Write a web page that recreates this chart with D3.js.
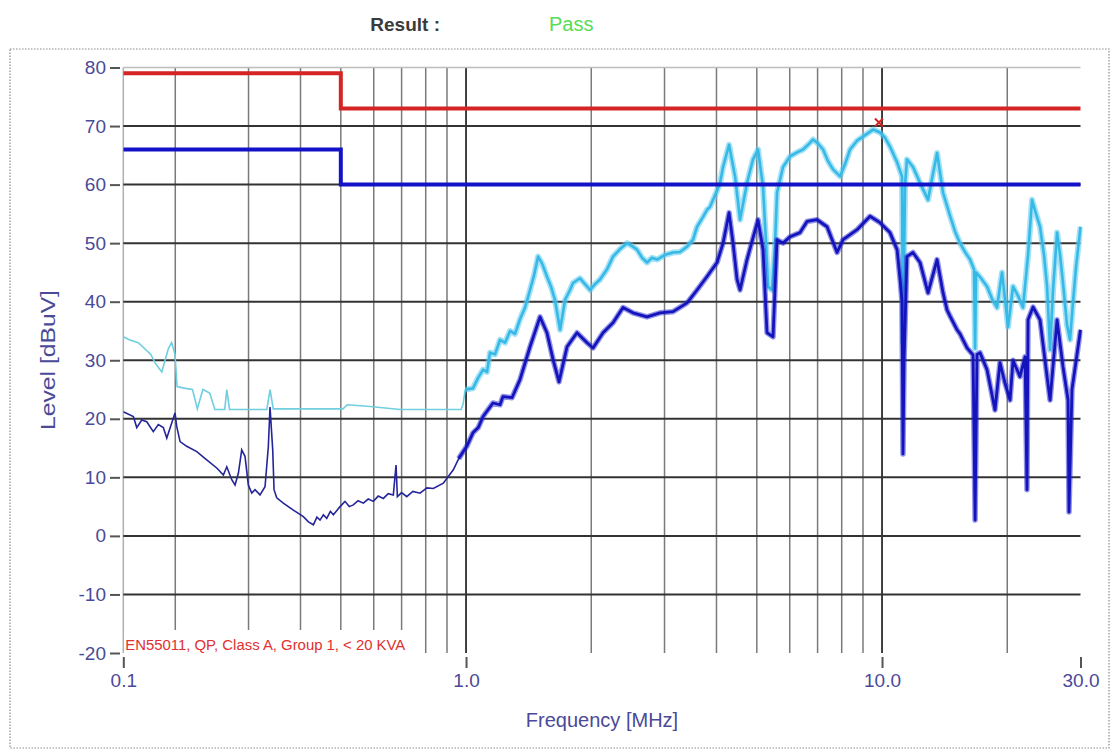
<!DOCTYPE html>
<html>
<head>
<meta charset="utf-8">
<script src="https://cdn.jsdelivr.net/npm/d3@7/dist/d3.min.js"></script>
<style>
  html, body { margin: 0; padding: 0; background: #fff; }
  svg { display: block; font-family: "Liberation Sans", Arial, sans-serif; }
</style>
</head>
<body>
<svg id="chart" width="1119" height="751"></svg>
<script>
// ---------- DATA ----------
const titleLabel = "Result :";
const resultText = "Pass";
const xTitle = "Frequency [MHz]";
const yTitle = "Level [dBuV]";
const limitNote = "EN55011, QP, Class A, Group 1, < 20 KVA";

const yTicks = [80, 70, 60, 50, 40, 30, 20, 10, 0, -10, -20];
const xTickValues = [0.15, 1, 10, 30];
const xTickLabels = ["0.1", "1.0", "10.0", "30.0"];
const xGridMinor = [0.2, 0.3, 0.4, 0.5, 0.6, 0.7, 0.8, 0.9, 2, 3, 4, 5, 6, 7, 8, 9, 20];
const xGridMajor = [1, 10];

// Limit lines (step after)
const limitFreq = [0.15, 0.5, 30];
const qpLimit = [79, 73, 73];
const avLimit = [66, 60, 60];

// Peak marker
const markerFreq = [9.83];
const markerLevel = [70.6];

// Light-blue (peak) trace
const peakFreq = [0.150,0.155,0.163,0.1747,0.179,0.1856,0.189,0.1925,0.196,0.1997,0.202,0.2115,0.220,0.226,0.233,0.242,0.249,0.263,0.266,0.270,0.300,0.332,0.338,0.344,0.40,0.506,0.518,0.588,0.694,0.85,0.973,0.984,0.995,
 1.039,1.069,1.099,1.123,1.142,1.174,1.207,1.241,1.276,1.311,1.348,1.386,1.425,1.457,1.490,1.524,1.565,1.602,1.636,1.683,1.730,1.778,1.808,1.879,1.932,1.987,2.042,2.099,2.181,2.256,2.345,2.438,2.508,2.577,2.650,2.723,2.800,2.878,3.009,3.145,3.269,3.399,3.513,3.592,3.713,3.796,3.860,4.013,4.080,4.148,4.288,4.433,4.557,4.737,4.897,5.034,5.175,5.262,5.321,5.440,5.531,5.593,5.781,6.009,6.247,6.458,6.640,6.826,7.019,7.216,7.418,7.626,7.927,8.150,8.378,8.709,9.003,9.515,9.890,10.17,10.45,10.87,11.17,11.23,11.36,11.48,11.87,12.34,12.90,13.27,13.56,14.02,14.58,14.98,15.40,15.83,16.28,16.64,16.74,16.83,17.30,17.88,18.38,18.90,19.43,20.09,20.65,21.23,21.82,22.44,22.94,23.46,23.98,24.51,24.93,25.35,25.77,26.35,26.79,27.23,27.84,28.31,28.79,29.27,30.0];
const peakLevel = [34,33.5,33,31,29.5,28,30,32,33,31,25.5,25.2,25,21.7,25,24.4,21.6,21.6,25,21.6,21.6,21.6,25,21.7,21.7,21.7,22.4,22.1,21.6,21.6,21.6,22.5,25,
 25.2,27,28.4,28,31.3,31,33.5,33,35,34.5,37,39,42,44.5,47.7,46.5,44.3,42.5,40.3,35.2,40.3,42,43.2,44,43,42,43,43.8,45.5,47.7,49,50,49.5,48.9,47.5,46.7,47.5,47.2,48,48.4,48.5,49.4,50.6,52.8,54.5,55.7,56.2,59,60.3,63,66.8,61.4,54,60.3,64.3,66,59.7,50,42.6,42,50,58.6,63,64.8,65.5,66,66.8,67.7,67,66,64,62.6,61.4,63.5,66,67.5,68.2,69.4,68.9,68,66.5,63.8,61.4,33,60,64.3,63,60.3,57.4,62,65.4,58.6,54.6,52,50,48.5,47.2,45.5,32,45,44,42.6,40.5,39,45,35.7,42.6,41,39,48,57.4,55,52.8,48,42.6,31.8,42,51.8,48,43.2,36,33.5,40,46,52.8];

// Dark-blue (average) trace
const avgFreq = [0.150,0.1586,0.1616,0.1661,0.1708,0.1771,0.1821,0.1872,0.1908,0.1961,0.1997,0.2016,0.2054,0.2131,0.2253,0.2380,0.2516,0.2610,0.2660,0.2734,0.2784,0.2836,0.2889,0.2942,0.2997,0.3054,0.3110,0.3197,0.3287,0.3348,0.3379,0.3430,0.3455,0.3507,0.3637,0.3845,0.4064,0.4180,0.4296,0.4380,0.4457,0.4540,0.4625,0.4720,0.4798,0.4979,0.5117,0.5240,0.5358,0.5500,0.5665,0.5820,0.5987,0.6150,0.6327,0.6500,0.6687,0.6788,0.6838,0.7000,0.7203,0.7450,0.7752,0.8050,0.8345,0.8819,0.9321,0.9600,
 1.004,1.039,1.070,1.099,1.161,1.207,1.227,1.290,1.348,1.425,1.506,1.565,1.619,1.673,1.749,1.848,1.954,2.020,2.135,2.256,2.384,2.520,2.723,2.926,3.145,3.399,3.592,3.796,4.013,4.148,4.288,4.384,4.482,4.557,4.737,5.034,5.175,5.291,5.470,5.593,5.781,6.009,6.352,6.603,6.980,7.377,7.797,8.060,8.709,9.358,9.890,10.45,10.87,11.05,11.17,11.23,11.30,11.48,11.87,12.34,12.90,13.56,14.02,14.33,14.58,15.15,15.40,16.01,16.55,16.74,16.92,17.20,17.88,18.69,19.21,19.75,20.31,20.65,21.46,22.07,22.31,22.44,23.07,23.98,24.93,25.35,26.35,27.23,28.00,28.15,28.62,30.0];
const avgLevel = [21.2,20.4,18.5,19.8,19.5,17.8,19,18.5,16.7,19.3,21,18.7,16.1,15.3,14.4,13,11.6,10.4,11.8,9.6,8.7,10.7,14.7,13.6,8.7,7.3,7.9,7,8.4,15.3,22,14.7,7.9,6.5,5.6,4.4,3.3,2.4,1.9,3.2,2.7,3.6,3,4.2,3.6,5,5.9,5.0,5.3,6.0,5.6,6.3,5.9,6.8,6.4,7.2,7,12.1,6.7,7.4,6.7,7.6,7.3,8.2,8.1,9,11.3,13.2,
 15.3,17.6,18.5,20.4,22.7,22.4,23.8,23.6,26.7,32.3,37.4,34.7,30.1,26.3,32.3,34.7,33,32.1,34.7,36.4,39,38.1,37.4,38.1,38.3,39.8,42,44.3,46.7,50,55.2,50,43.8,42,47.2,54,48.9,34.7,34,50.6,50,51.1,51.8,53.7,54,52.8,48.4,50.6,52.3,54.6,53.5,51.8,48.9,43.8,40,14,30,47.7,48.4,46.7,41.5,47.2,41.5,38.6,37.5,35.2,34.5,32.1,30.9,2.7,31,31.3,28.4,21.5,29.6,26.1,23.2,30,27.2,30.6,7.9,36.9,39.1,36.9,27.2,23.2,36.9,28.9,23.2,4.1,25,35.2];

// ---------- CHART ----------
const svg = d3.select("#chart");
const x = d3.scaleLog().domain([0.15, 30]).range([123.3, 1080.5]);
const y = d3.scaleLinear().domain([-20, 80]).range([653, 67.5]);
const axisColor = "#4a4a98";

// outer dotted frame
svg.append("rect").attr("x", 10).attr("y", 49).attr("width", 1099).attr("height", 699)
  .attr("fill", "none").attr("stroke", "#8a8a8a").attr("stroke-width", 1.2).attr("stroke-dasharray", "1.5,1.5");

// title
svg.append("text").attr("x", 440).attr("y", 31).attr("text-anchor", "end")
  .attr("font-size", 19).attr("font-weight", "bold").attr("fill", "#3a3a3a").text(titleLabel);
svg.append("text").attr("x", 549).attr("y", 31)
  .attr("font-size", 20).attr("fill", "#55dd55").text(resultText);

const [x0, x1] = x.range();
const plot = svg.append("g");

// vertical grid
plot.append("line").attr("x1", x(0.15)).attr("x2", x(0.15)).attr("y1", y(80)).attr("y2", y(-20))
  .attr("stroke", "#b0b0b0").attr("stroke-width", 1.5);
plot.selectAll("line.vminor").data(xGridMinor).join("line").attr("class", "vminor")
  .attr("x1", d => x(d)).attr("x2", d => x(d)).attr("y1", y(80)).attr("y2", y(-20))
  .attr("stroke", "#7a7a7a").attr("stroke-width", 1.5);
plot.selectAll("line.vmajor").data(xGridMajor).join("line").attr("class", "vmajor")
  .attr("x1", d => x(d)).attr("x2", d => x(d)).attr("y1", y(80)).attr("y2", y(-20))
  .attr("stroke", "#111").attr("stroke-width", 1.6);

// horizontal grid
plot.selectAll("line.h").data(yTicks.filter(v => v > -20)).join("line").attr("class", "h")
  .attr("x1", x0).attr("x2", x1).attr("y1", d => y(d)).attr("y2", d => y(d))
  .attr("stroke", d => d === 80 ? "#bdbdbd" : "#333").attr("stroke-width", d => d === 80 ? 1.5 : 2);

// white box behind limit note
plot.append("rect").attr("x", x0 + 1).attr("y", 630).attr("width", 287).attr("height", 24).attr("fill", "#fff");

// clip
svg.append("clipPath").attr("id", "clip").append("rect")
  .attr("x", x0).attr("y", y(80) - 4).attr("width", x1 - x0 + 2).attr("height", y(-20) - y(80) + 4);
const traces = svg.append("g").attr("clip-path", "url(#clip)");

const line = d3.line().x(d => x(d[0])).y(d => y(d[1]));
const peakData = peakFreq.map((f, i) => [f, peakLevel[i]]);
const avgData = avgFreq.map((f, i) => [f, avgLevel[i]]);

// peak trace: thin below 1 MHz, noisy band above
traces.append("path").datum(peakData.filter(d => d[0] <= 1.0))
  .attr("d", line).attr("fill", "none").attr("stroke", "#6fcfe0").attr("stroke-width", 1.6);
traces.append("path").datum(peakData.filter(d => d[0] >= 0.99))
  .attr("d", line).attr("fill", "none").attr("stroke", "#5ccbee").attr("stroke-opacity", 0.55)
  .attr("stroke-width", 6).attr("stroke-linejoin", "round");
traces.append("path").datum(peakData.filter(d => d[0] >= 0.99))
  .attr("d", line).attr("fill", "none").attr("stroke", "#36b9e6").attr("stroke-width", 2.6).attr("stroke-linejoin", "round");

// average trace
traces.append("path").datum(avgData.filter(d => d[0] <= 1.004))
  .attr("d", line).attr("fill", "none").attr("stroke", "#25259a").attr("stroke-width", 1.6);
traces.append("path").datum(avgData.filter(d => d[0] >= 0.96))
  .attr("d", line).attr("fill", "none").attr("stroke", "#2a2ad0").attr("stroke-opacity", 0.5)
  .attr("stroke-width", 5.5).attr("stroke-linejoin", "round");
traces.append("path").datum(avgData.filter(d => d[0] >= 0.96))
  .attr("d", line).attr("fill", "none").attr("stroke", "#1414bc").attr("stroke-width", 2.8).attr("stroke-linejoin", "round");

// limits
const stepLine = d3.line().curve(d3.curveStepAfter).x(d => x(d[0])).y(d => y(d[1]));
traces.append("path").datum(limitFreq.map((f, i) => [f, avLimit[i]]))
  .attr("d", stepLine).attr("fill", "none").attr("stroke", "#1212c8").attr("stroke-width", 4);
traces.append("path").datum(limitFreq.map((f, i) => [f, qpLimit[i]]))
  .attr("d", stepLine).attr("fill", "none").attr("stroke", "#d42424").attr("stroke-width", 4);

// marker
const mk = svg.append("g");
markerFreq.forEach((f, i) => {
  const cx = x(f), cy = y(markerLevel[i]);
  mk.append("path").attr("d", `M${cx-4},${cy-4}L${cx+4},${cy+4}M${cx+4},${cy-4}L${cx-4},${cy+4}`)
    .attr("stroke", "#d42424").attr("stroke-width", 2);
});

// limit note
svg.append("text").attr("x", x0 + 2).attr("y", 650).attr("font-size", 14).attr("fill", "#e03030")
  .attr("textLength", 280).attr("lengthAdjust", "spacingAndGlyphs").text(limitNote);

// y axis
const yAxis = d3.axisLeft(y).tickValues(yTicks).tickSize(10).tickPadding(4).tickFormat(d => String(d));
const gy = svg.append("g").attr("transform", "translate(120,0)").call(yAxis);
gy.select(".domain").remove();
gy.selectAll(".tick line").attr("stroke", "#555").attr("stroke-width", 2);
gy.selectAll(".tick text").attr("fill", axisColor).attr("font-size", 19).attr("font-family", "Liberation Sans, Arial, sans-serif");

// x axis
const xAxis = d3.axisBottom(x).tickValues(xTickValues).tickSize(11).tickPadding(6)
  .tickFormat((d, i) => xTickLabels[i]);
const gx = svg.append("g").attr("transform", "translate(0,657)").call(xAxis);
gx.select(".domain").remove();
gx.selectAll(".tick line").attr("stroke", "#555").attr("stroke-width", 2);
gx.selectAll(".tick text").attr("fill", axisColor).attr("font-size", 19).attr("font-family", "Liberation Sans, Arial, sans-serif");

// axis titles
svg.append("text").attr("x", 602).attr("y", 727).attr("text-anchor", "middle")
  .attr("font-size", 20).attr("fill", axisColor).text(xTitle);
svg.append("text").attr("transform", "translate(55,360) rotate(-90)").attr("text-anchor", "middle")
  .attr("font-size", 20).attr("fill", axisColor).attr("textLength", 140).attr("lengthAdjust", "spacingAndGlyphs").text(yTitle);
</script>
</body>
</html>
